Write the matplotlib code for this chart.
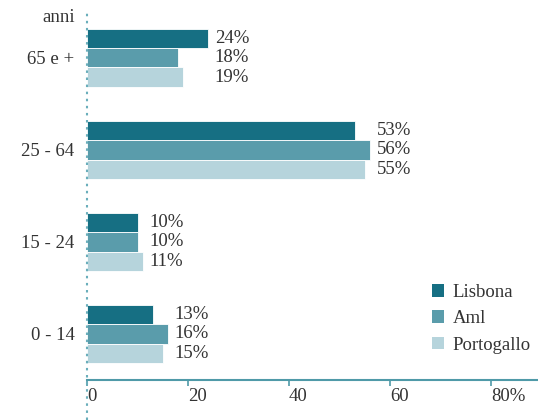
import numpy as np
import matplotlib.pyplot as plt
from matplotlib.lines import Line2D
from matplotlib.patches import Patch

# Popolazione per classe di età (%)
classi = ['0 - 14', '15 - 24', '25 - 64', '65 e +']
lisbona = [13, 10, 53, 24]
aml = [16, 10, 56, 18]
portogallo = [15, 11, 55, 19]
serie = ['Lisbona', 'Aml', 'Portogallo']
colori = ['#166f83', '#5a9cab', '#b6d4dc']
xticks = [0, 20, 40, 60, 80]
xlabels = ['0', '20', '40', '60', '80%']

plt.rcParams['font.family'] = ['Liberation Serif', 'DejaVu Serif']
testo = '#333333'
asse = '#4f9aa8'
fs = 13.5

fig = plt.figure(figsize=(5.38, 4.2), dpi=100)
ax = fig.add_axes([87 / 538, 40 / 420, 451 / 538, 359 / 420])

y = np.arange(len(classi))
h = 0.21
valori = [lisbona, aml, portogallo]
for i, (vals, col) in enumerate(zip(valori, colori)):
    ax.barh(y + (1 - i) * h, vals, height=h, color=col, edgecolor='white',
            linewidth=0.6, label=serie[i])

# etichette dei valori, allineate a destra della barra più lunga del gruppo
for j in range(len(classi)):
    xmax = max(lisbona[j], aml[j], portogallo[j])
    for i, vals in enumerate(valori):
        ax.text(xmax + 1.3, y[j] + (1 - i) * h, f'{vals[j]}%', ha='left',
                va='center', fontsize=fs, color=testo)

ax.set_xlim(0, 89.3)
ax.set_ylim(-0.5, 3.4)
ax.set_yticks(y)
ax.set_yticklabels(classi, fontsize=fs, color=testo)
ax.set_xticks(xticks)
ax.set_xticklabels(xlabels, fontsize=fs, color=testo, ha='left')
ax.tick_params(axis='y', length=0, pad=9)
ax.tick_params(axis='x', length=4, width=1.2, color=asse, pad=2)

for s in ['top', 'right', 'left']:
    ax.spines[s].set_visible(False)
ax.spines['bottom'].set_color(asse)
ax.spines['bottom'].set_linewidth(1.5)

# linea tratteggiata dello zero su tutta l'altezza
fig.add_artist(Line2D([87 / 538, 87 / 538], [0, 1 - 10 / 420],
                      transform=fig.transFigure, color='#6aaebb',
                      linestyle=(0, (1.2, 2.2)), linewidth=1.5))

fig.text(75 / 538, 1 - 18 / 420, 'anni', ha='right', va='center',
         fontsize=fs, color=testo)

maniglie = [Patch(facecolor=c, edgecolor='none') for c in colori]
leg = ax.legend(maniglie, serie, loc='upper left',
                bbox_to_anchor=(415 / 538, 1 - 267 / 420),
                bbox_transform=fig.transFigure, frameon=False,
                handlelength=0.65, handleheight=0.65, handletextpad=0.45,
                labelspacing=0.5, fontsize=fs)
for t in leg.get_texts():
    t.set_color(testo)

fig.savefig('out.png', dpi=100)
